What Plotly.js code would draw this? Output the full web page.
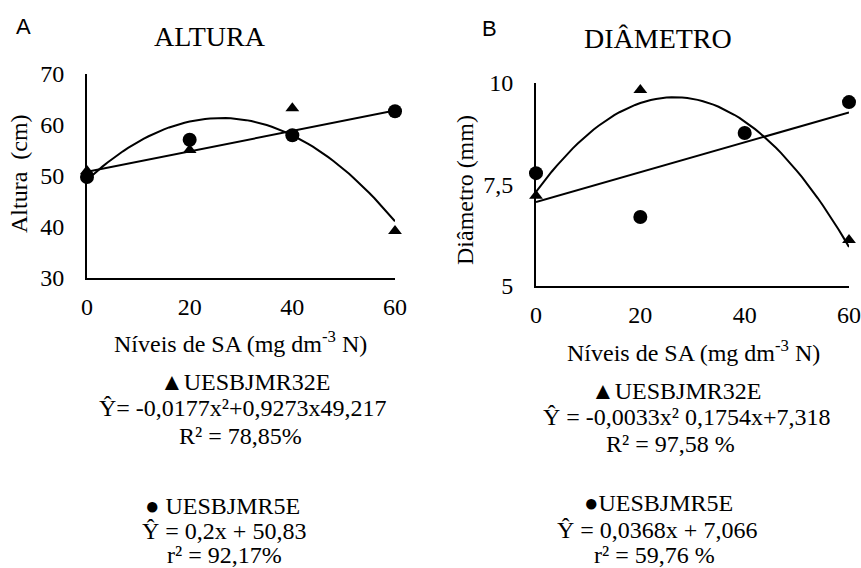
<!DOCTYPE html>
<html>
<head>
<meta charset="utf-8">
<script src="https://cdn.plot.ly/plotly-3.0.1.min.js"></script>
<style>
  html, body { margin: 0; padding: 0; background: #fff; }
  #chart { width: 861px; height: 568px; }
</style>
</head>
<body>
<div id="chart"></div>
<script>
// Nitrogen levels (mg dm-3 N)
const levels = [0, 20, 40, 60];

// Plant height (cm)
const alturaR32E = [51, 55.1, 63.3, 39.2];
const alturaR5E = [49.8, 57.1, 58, 62.7];

// Stem diameter (mm)
const diamR32E = [7.22, 9.83, 8.8, 6.13];
const diamR5E = [7.78, 6.7, 8.77, 9.53];

// Fitted regression coefficients [c, b, a] for y = c + b x + a x^2
const fitAlturaR32E = [49.217, 0.9273, -0.0177];
const fitAlturaR5E = [50.83, 0.2, 0];
const fitDiamR32E = [7.318, 0.1754, -0.0033];
const fitDiamR5E = [7.066, 0.0368, 0];

const xTicks = [0, 20, 40, 60];
const alturaTicks = [30, 40, 50, 60, 70];
const diamTicks = [5, 7.5, 10];
const diamTickText = ['5', '7,5', '10'];

function curve(coef) {
  const xs = [], ys = [];
  for (let x = 0; x <= 60; x += 1) {
    xs.push(x);
    ys.push(coef[0] + coef[1] * x + coef[2] * x * x);
  }
  return { xs, ys };
}

const serif = 'Liberation Serif, Times New Roman, serif';
const sans = 'Liberation Sans, Arial, sans-serif';
const black = '#000000';

function fitTrace(coef, xa, ya) {
  const c = curve(coef);
  return { x: c.xs, y: c.ys, xaxis: xa, yaxis: ya, mode: 'lines',
    line: { color: black, width: 2 }, hoverinfo: 'skip', cliponaxis: false };
}
function pts(y, sym, xa, ya) {
  return { x: levels, y: y, xaxis: xa, yaxis: ya, mode: 'markers', cliponaxis: false,
    marker: { symbol: sym, size: sym === 'circle' ? 14 : 12, color: black } };
}

const traces = [
  fitTrace(fitAlturaR32E, 'x', 'y'),
  fitTrace(fitAlturaR5E, 'x', 'y'),
  pts(alturaR32E, 'triangle-up', 'x', 'y'),
  pts(alturaR5E, 'circle', 'x', 'y'),
  fitTrace(fitDiamR32E, 'x2', 'y2'),
  fitTrace(fitDiamR5E, 'x2', 'y2'),
  pts(diamR32E, 'triangle-up', 'x2', 'y2'),
  pts(diamR5E, 'circle', 'x2', 'y2')
];

const axisBase = {
  showgrid: false, zeroline: false, showline: true, linecolor: black, linewidth: 2,
  ticks: '', tickfont: { family: serif, size: 24, color: black }, fixedrange: true
};

const W = 861, H = 568;
const px = v => v / W;
const py = v => 1 - v / H;

function ann(text, x, y, size, extra) {
  return Object.assign({ text: text, x: px(x), y: py(y), xref: 'paper', yref: 'paper',
    xanchor: 'center', yanchor: 'middle', showarrow: false, borderpad: 0,
    font: { family: serif, size: size, color: black } }, extra || {});
}

const annotations = [
  ann('A', 23, 26, 22, { font: { family: sans, size: 22, color: black } }),
  ann('B', 489, 28, 22, { font: { family: sans, size: 22, color: black } }),
  ann('ALTURA', 210, 37, 28),
  ann('DIÂMETRO', 658, 38, 28),
  ann('Altura  (cm)', 19, 174, 24, { textangle: -90 }),
  ann('Diâmetro (mm)', 465, 190, 24, { textangle: -90 }),
  ann('Níveis de SA (mg dm<sup>-3</sup> N)', 240, 342, 24),
  ann('Níveis de SA (mg dm<sup>-3</sup> N)', 693, 351, 24),

  ann('▲UESBJMR32E', 245, 382, 24),
  ann('Ŷ= -0,0177x²+0,9273x49,217', 243, 408, 24),
  ann('R² = 78,85%', 241, 436, 24),
  ann('● UESBJMR5E', 223, 506, 24),
  ann('Ŷ = 0,2x + 50,83', 224, 531, 24),
  ann('r² = 92,17%', 224, 555, 24),

  ann('▲UESBJMR32E', 676, 391, 24),
  ann('Ŷ = -0,0033x² 0,1754x+7,318', 687, 417, 24),
  ann('R² = 97,58 %', 670, 444, 24),
  ann('●UESBJMR5E', 658, 503, 24),
  ann('Ŷ = 0,0368x + 7,066', 657, 530, 24),
  ann('r² = 59,76 %', 654, 555, 24)
];

const layout = {
  width: W, height: H,
  margin: { l: 0, r: 0, t: 0, b: 0 },
  paper_bgcolor: '#ffffff', plot_bgcolor: '#ffffff',
  showlegend: false,
  xaxis: Object.assign({}, axisBase, { domain: [px(87), px(395)], range: [0, 60],
    anchor: 'y', tickvals: xTicks, ticklabelstandoff: 6 }),
  yaxis: Object.assign({}, axisBase, { domain: [py(278), py(74)], range: [30, 70],
    anchor: 'x', tickvals: alturaTicks, ticklabelstandoff: 16 }),
  xaxis2: Object.assign({}, axisBase, { domain: [px(536), px(849)], range: [0, 60],
    anchor: 'y2', tickvals: xTicks, ticklabelstandoff: 6 }),
  yaxis2: Object.assign({}, axisBase, { domain: [py(286), py(83)], range: [5, 10],
    anchor: 'x2', tickvals: diamTicks, ticktext: diamTickText, ticklabelstandoff: 16 }),
  annotations: annotations
};

Plotly.newPlot('chart', traces, layout, { displayModeBar: false, staticPlot: true });
</script>
</body>
</html>
